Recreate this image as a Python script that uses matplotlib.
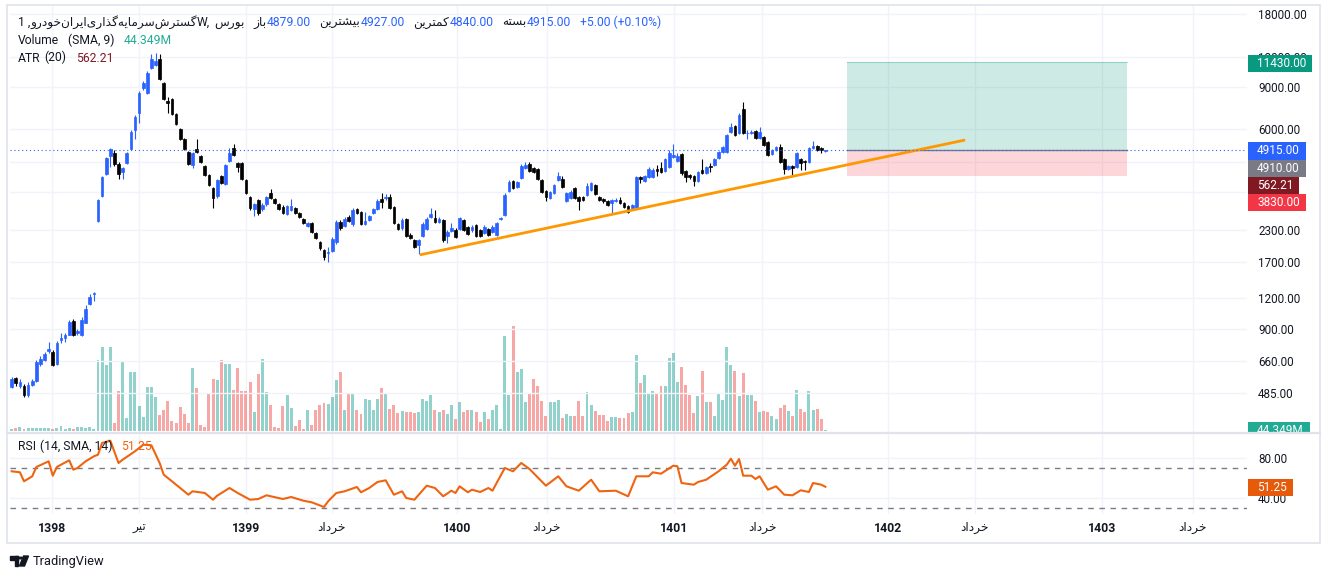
import matplotlib
matplotlib.use("Agg")
import matplotlib.pyplot as plt
import matplotlib.transforms as mtransforms
from matplotlib.colors import to_rgba
from matplotlib.patches import Rectangle, Circle, Polygon
from matplotlib.ticker import NullLocator

plt.rcParams['font.family'] = ['Roboto', 'DejaVu Sans']

# ---- data (oldest first) ----
opens = [515, 560, 520, 520, 480, 525, 545, 640, 664, 730,
         720, 640, 810, 826, 850, 970, 866, 843, 953, 1140,
         1250, 2505, 3180, 3930, 4655, 4790, 4310, 4000, 4355, 4975,
         5960, 7010, 8900, 8480, 10760, 11070, 11720, 9330, 7865, 8010,
         6945, 6020, 5475, 4840, 4270, 4975, 4655, 4230, 3890, 3430,
         3180, 3850, 3570, 4440, 5030, 4355, 4355, 3710, 3150, 2810,
         3060, 2810, 2950, 3270, 3090, 2950, 2870, 2680, 2790, 2840,
         2705, 2555, 2385, 2455, 2235, 2050, 1900, 1850, 1880, 2050,
         2480, 2385, 2600, 2430, 2810, 2730, 2430, 2530, 2705, 2810,
         3090, 3120, 3150, 2870, 2430, 2340, 2555, 2190, 2090, 1995,
         2170, 2320, 2600, 2580, 2480, 2530, 2170, 2280, 2300, 2320,
         2530, 2360, 2300, 2410, 2300, 2235, 2320, 2255, 2190, 2555,
         2650, 3340, 3680, 3460, 3780, 4150, 4310, 4150, 4110, 3710,
         3340, 3120, 3270, 3710, 3750, 3030, 3120, 3430, 3150, 3150,
         3210, 3370, 3530, 3150, 3090, 3030, 2980, 3030, 3060, 2980,
         2890, 2840, 2840, 3815, 3680, 3815, 3815, 4110, 4150, 4040,
         4190, 4610, 4440, 4740, 4040, 3890, 3850, 3680, 4080, 3960,
         4230, 4270, 4570, 4840, 4840, 5850, 6200, 5800, 7280, 5780,
         5800, 5910, 5530, 5580, 5320, 4740, 4930, 5080, 4530, 4110,
         4230, 4190, 4530, 4440, 4400, 5030, 5130, 5030, 4879]
highs = [566, 566, 555, 530, 540, 555, 670, 695, 720, 795,
         735, 800, 866, 866, 980, 990, 900, 1000, 1130, 1250,
         1275, 3090, 3850, 4620, 5030, 4930, 4400, 4200, 4840, 5960,
         6880, 8650, 9500, 10470, 12300, 12420, 12300, 9420, 8160, 8090,
         7010, 6080, 5530, 4880, 4840, 5475, 4700, 4270, 3930, 3460,
         3750, 3890, 4310, 5030, 5220, 4400, 4400, 3750, 3180, 2980,
         3090, 2980, 3180, 3400, 3120, 2980, 2920, 2920, 3090, 2870,
         2730, 2580, 2480, 2480, 2255, 2070, 1920, 1955, 2150, 2530,
         2530, 2600, 2650, 2840, 2840, 2760, 2730, 2650, 2840, 3090,
         3270, 3240, 3240, 2890, 2455, 2580, 2580, 2235, 2110, 2110,
         2480, 2600, 2840, 2790, 2600, 2555, 2300, 2455, 2340, 2600,
         2555, 2385, 2410, 2430, 2320, 2410, 2340, 2410, 2480, 2600,
         3270, 3700, 3710, 3680, 4310, 4400, 4400, 4190, 4150, 3750,
         3370, 3340, 3570, 4000, 3850, 3300, 3370, 3460, 3180, 3180,
         3600, 3640, 3570, 3180, 3120, 3060, 3090, 3120, 3150, 3000,
         2920, 2950, 3850, 3850, 3890, 4190, 4150, 4270, 4400, 4570,
         4930, 5220, 4790, 4790, 4080, 3930, 3890, 4040, 4530, 4230,
         4355, 4570, 4880, 5130, 5750, 6380, 6250, 7010, 7790, 5960,
         5960, 5960, 6140, 5630, 5370, 4980, 5130, 5220, 4570, 4270,
         4270, 4840, 4570, 4480, 5080, 5370, 5170, 5080, 4927]
lows = [510, 520, 510, 471, 471, 520, 540, 628, 658, 713,
        628, 634, 787, 795, 845, 835, 843, 835, 945, 1130,
        1170, 2480, 3150, 3890, 4190, 4230, 3745, 3745, 4310, 4930,
        5475, 6370, 8730, 8400, 10660, 10960, 9600, 7940, 7010, 6880,
        6250, 5420, 4930, 4270, 4150, 4790, 4350, 3850, 3500, 2840,
        3120, 3570, 3530, 4400, 4650, 4000, 3710, 3240, 2790, 2625,
        2650, 2760, 2900, 3090, 2950, 2790, 2680, 2650, 2760, 2680,
        2580, 2430, 2360, 2235, 2110, 1900, 1730, 1700, 1865, 2010,
        2300, 2360, 2480, 2400, 2680, 2410, 2410, 2505, 2680, 2790,
        2840, 3060, 2810, 2430, 2300, 2300, 2150, 2110, 1935, 1830,
        2150, 2300, 2580, 2455, 2455, 2050, 2030, 2255, 2130, 2300,
        2280, 2190, 2255, 2150, 2150, 2210, 2170, 2235, 2170, 2530,
        2625, 3300, 3400, 3430, 3750, 4110, 4000, 3960, 3710, 3270,
        3030, 3090, 3240, 3680, 3430, 3000, 3090, 3090, 2790, 3030,
        3180, 3340, 3210, 3030, 2980, 2890, 2705, 3000, 2950, 2840,
        2705, 2790, 2810, 3600, 3640, 3780, 3780, 3850, 3960, 4000,
        4150, 4570, 4400, 3890, 3640, 3750, 3500, 3640, 3930, 3930,
        4000, 4230, 4530, 4790, 4790, 5800, 5630, 5745, 5745, 5475,
        5745, 5475, 5475, 5130, 4650, 4700, 4880, 4355, 3930, 4080,
        3890, 4150, 4080, 4080, 4355, 4980, 4880, 4790, 4840]
closes = [555, 535, 540, 480, 525, 545, 652, 676, 706, 740,
          634, 787, 826, 850, 962, 843, 875, 980, 1085, 1215,
          1265, 3060, 3815, 4570, 4975, 4310, 3930, 4160, 4790, 5855,
          6750, 8480, 9330, 10270, 11720, 11500, 9690, 8015, 7720, 6945,
          6310, 5475, 4975, 4310, 4790, 4840, 4400, 3890, 3530, 3120,
          3710, 3600, 4270, 4790, 4700, 4190, 3750, 3270, 2840, 2950,
          2705, 2920, 3150, 3120, 2980, 2810, 2705, 2890, 2890, 2705,
          2600, 2455, 2455, 2255, 2135, 1930, 1780, 1865, 2110, 2480,
          2340, 2555, 2505, 2790, 2705, 2430, 2505, 2625, 2810, 3030,
          3000, 3150, 2840, 2455, 2320, 2530, 2170, 2135, 1955, 2090,
          2430, 2555, 2675, 2480, 2555, 2090, 2255, 2340, 2150, 2580,
          2300, 2210, 2360, 2170, 2170, 2360, 2190, 2360, 2455, 2580,
          3210, 3640, 3430, 3640, 4230, 4270, 4040, 4000, 3750, 3300,
          3150, 3300, 3530, 3850, 3460, 3270, 3300, 3120, 3030, 3060,
          3500, 3600, 3240, 3060, 3030, 2920, 3060, 3060, 2980, 2870,
          2730, 2920, 3815, 3745, 3850, 4110, 4080, 4040, 4000, 4530,
          4790, 4700, 4650, 3960, 3815, 3815, 3680, 4000, 3960, 4190,
          4190, 4530, 4840, 5080, 5690, 6140, 5690, 6880, 5800, 5820,
          5855, 5530, 5855, 5170, 4700, 4930, 5080, 4400, 4110, 4230,
          4150, 4790, 4355, 4400, 5030, 5130, 4930, 4910, 4915]
# weekly volume, millions
volumes = [3.5, 7, 8.4, 4.9, 5.6, 5.6, 5.6, 5.6, 5.6, 5.6,
           3.5, 7, 10.5, 4.9, 7, 4.9, 8.4, 8.4, 5.6, 8.4,
           3.5, 150, 177, 138, 177, 16, 84, 145, 27, 124,
           124, 52, 29, 93, 93, 71, 34, 44, 63, 21,
           17, 50, 35, 17, 133, 91, 12, 8, 77, 110,
           108, 150, 140, 140, 87, 133, 84, 84, 103, 40,
           120, 152, 82, 54, 8, 7, 52, 75, 48, 10,
           24, 3.5, 45, 12, 45, 54, 59, 56, 72, 108,
           124, 45, 77, 77, 44, 35, 68, 65, 44, 68,
           90, 77, 47, 54, 38, 43, 40, 39, 38, 39,
           68, 64, 75, 45, 41, 45, 36, 55, 26, 62,
           39, 45, 45, 41, 18, 41, 26, 45, 54, 4,
           199, 76, 220, 125, 131, 61, 80, 110, 94, 64,
           31, 62, 61, 66, 27, 36, 31, 31, 64, 31,
           83, 55, 43, 33, 33, 22, 29, 29, 27, 27,
           38, 39, 160, 102, 118, 78, 85, 78, 94, 94,
           153, 165, 104, 134, 96, 76, 38, 73, 127, 60,
           62, 32, 81, 66, 176, 139, 127, 73, 122, 76,
           76, 64, 39, 43, 41, 32, 26, 48, 55, 43,
           32, 87, 47, 39, 85, 45, 47, 26, 3]
volume_sma9 = 44.349
atr20 = 562.21

rsi_bars = [0, 2, 3, 5, 6, 9, 10, 11, 12, 14, 15, 16, 18, 20, 21, 22, 24, 26, 27, 30,
            32, 34, 36, 37, 39, 41, 43, 44, 47, 49, 50, 53, 55, 58, 60, 62, 66, 68, 71, 73,
            76, 77, 79, 81, 84, 85, 87, 89, 91, 93, 95, 96, 98, 100, 101, 103, 105, 107, 108, 109,
            111, 112, 114, 116, 117, 118, 120, 122, 124, 126, 130, 133, 135, 138, 141, 143, 147, 150, 152, 155,
            156, 158, 161, 162, 163, 166, 167, 169, 172, 174, 175, 176, 177, 178, 180, 181, 182, 184, 186, 188,
            190, 192, 194, 195, 197, 198]
rsi_vals = [66.7, 65.7, 56.7, 61.7, 71, 76.7, 62.3, 71, 73.3, 77.7, 68.3, 70, 76.7, 81.7, 83.3, 95, 97.3, 75, 78.3, 86.7,
            93.3, 92.7, 75, 63.3, 56.7, 50, 43.3, 46.7, 45, 38.3, 42.3, 50, 45, 38.3, 39, 42.7, 39, 41, 37.3, 35.7,
            31, 36.7, 45, 46.7, 51, 45.7, 50, 56, 57.7, 43.3, 46.7, 40, 38.3, 47.7, 52.3, 50, 41.7, 47.3, 45, 51.7,
            45.7, 48.3, 46, 50, 47.3, 55, 70, 66.7, 75, 69, 52.3, 61.7, 51.7, 47.3, 58.3, 46.7, 47.3, 41.7, 61.7, 61.7,
            65.7, 64.3, 72.3, 71.7, 55, 53.3, 56, 58.3, 66.7, 73.3, 79.3, 72.3, 79, 62.3, 62.3, 59, 61.7, 48.3, 51.7, 43.3,
            42.7, 47.7, 46, 55, 53.3, 51.25]

price_levels = [485, 660, 900, 1200, 1700, 2300, 3300, 4400, 6000, 9000, 12000, 18000]
hidden_levels = [3300, 4400]  # labels sit under the price tags
time_tick_bars = [9.8, 31.0, 57.0, 77.9, 108.3, 130.2, 161.1, 182.6, 213.2, 234.4, 265.3, 287.4]
time_tick_labels = ['1398', 'تیر', '1399', 'خرداد', '1400', 'خرداد', '1401', 'خرداد',
                    '1402', 'خرداد', '1403', 'خرداد']

trend_bars = [99.3, 232.0]
trend_prices = [1815, 5420]
position_bars = [203.2, 271.4]
entry_price, target_price, stop_price = 4910, 11430, 3830

symbol_name = 'گسترش‌سرمایه‌گذاری‌ایران‌خودرو'
exchange = 'بورس'
ohlc_names = ['باز', 'بیشترین', 'کمترین', 'بسته']

# ---- minimal persian shaping (matplotlib has no complex text layout) ----
FORMS = {
    'ا': (0xFE8D, 0xFE8E, None, None), 'ب': (0xFE8F, 0xFE90, 0xFE91, 0xFE92),
    'پ': (0xFB56, 0xFB57, 0xFB58, 0xFB59), 'ت': (0xFE95, 0xFE96, 0xFE97, 0xFE98),
    'خ': (0xFEA5, 0xFEA6, 0xFEA7, 0xFEA8), 'د': (0xFEA9, 0xFEAA, None, None),
    'ذ': (0xFEAB, 0xFEAC, None, None), 'ر': (0xFEAD, 0xFEAE, None, None),
    'ز': (0xFEAF, 0xFEB0, None, None), 'س': (0xFEB1, 0xFEB2, 0xFEB3, 0xFEB4),
    'ش': (0xFEB5, 0xFEB6, 0xFEB7, 0xFEB8), 'م': (0xFEE1, 0xFEE2, 0xFEE3, 0xFEE4),
    'ن': (0xFEE5, 0xFEE6, 0xFEE7, 0xFEE8), 'ه': (0xFEE9, 0xFEEA, 0xFEEB, 0xFEEC),
    'و': (0xFEED, 0xFEEE, None, None), 'ی': (0xFBFC, 0xFBFD, 0xFBFE, 0xFBFF),
    'ي': (0xFBFC, 0xFBFD, 0xFBFE, 0xFBFF), 'ک': (0xFB8E, 0xFB8F, 0xFB90, 0xFB91),
    'ك': (0xFB8E, 0xFB8F, 0xFB90, 0xFB91), 'گ': (0xFB92, 0xFB93, 0xFB94, 0xFB95),
}


def fa(s):
    out = []
    for i, ch in enumerate(s):
        if ch not in FORMS:
            out.append(ch)
            continue
        f = FORMS[ch]
        prev = s[i - 1] if i > 0 else ''
        nxt = s[i + 1] if i + 1 < len(s) else ''
        jp = prev in FORMS and FORMS[prev][2] is not None
        jn = f[2] is not None and nxt in FORMS
        g = f[3] if (jp and jn) else f[1] if jp else f[2] if jn else f[0]
        out.append(chr(g))
    return ''.join(reversed(out)).replace('\u200c', '')


DARK = '#131722'
BLUE = '#2962ff'
UP, DOWN = '#2962ff', '#000000'
GRID = '#f0f3fa'
ORANGE = '#ef6410'

W, H = 1330, 579
fig = plt.figure(figsize=(W / 100, H / 100), dpi=100)
fig.patch.set_facecolor('white')
r = fig.canvas.get_renderer()

rect_main = [10 / W, 1 - 432 / H, 1237 / W, 427 / H]
ax_v = fig.add_axes(rect_main)
ax = fig.add_axes(rect_main, sharex=ax_v)
ax_r = fig.add_axes([10 / W, 1 - 514 / H, 1237 / W, 80 / H], sharex=ax_v)
ax_v.set_zorder(0)
ax.set_zorder(1)
ax.patch.set_visible(False)

n = len(closes)
idx = list(range(n))
up = [c >= o for o, c in zip(opens, closes)]
cols = [UP if u else DOWN for u in up]

# volume overlay
vcols = [to_rgba('#26a69a', 0.5) if u else to_rgba('#ef5350', 0.5) for u in up]
ax_v.bar(idx, volumes, width=0.72, color=vcols, zorder=2)
ax_v.set_ylim(-2.1, 427 * 2.1)
ax_v.set_yticks([])
for t in time_tick_bars:
    ax_v.axvline(t, color=GRID, lw=1, zorder=0)

# candles
ax.set_yscale('log')
ax.vlines(idx, lows, highs, colors=cols, linewidth=0.8, zorder=3)
bottoms = [min(o, c) for o, c in zip(opens, closes)]
heights = [abs(c - o) for o, c in zip(opens, closes)]
ax.bar(idx, heights, bottom=bottoms, width=0.66, color=cols, edgecolor=cols,
       linewidth=0.5, zorder=4)

ax.set_xlim(-0.41, 300.6)
ax.set_ylim(335.9, 19610)
ax.yaxis.tick_right()
ax.set_yticks(price_levels)
ax.set_yticklabels(['' if p in hidden_levels else f'{p:.2f}' for p in price_levels])
ax.yaxis.set_minor_locator(NullLocator())
ax.tick_params(axis='y', length=0, pad=8, labelsize=8.4, labelcolor=DARK)
ax.tick_params(axis='x', bottom=False, labelbottom=False)
ax.grid(axis='y', color=GRID, lw=1)
ax.set_axisbelow(True)
for a in (ax, ax_v, ax_r):
    for s in a.spines.values():
        s.set_visible(False)
ax_v.tick_params(axis='x', bottom=False, labelbottom=False)

# long position tool
ax.fill_between(position_bars, entry_price, target_price, color='#089981', alpha=0.2, lw=0, zorder=1)
ax.fill_between(position_bars, stop_price, entry_price, color='#f23645', alpha=0.2, lw=0, zorder=1)
ax.plot(position_bars, [entry_price, entry_price], color='#787b86', lw=1, zorder=2)
ax.plot(position_bars, [target_price, target_price], color='#089981', lw=0.8, alpha=0.3, zorder=2)

# trend line and last price line
ax.plot(trend_bars, trend_prices, color='#ff9800', lw=2, solid_capstyle='butt', zorder=5)
ax.axhline(closes[-1], color=BLUE, lw=0.8, ls=(0, (1, 2.5)), zorder=5)

# RSI pane
ax_r.plot(rsi_bars, rsi_vals, color=ORANGE, lw=1.5, zorder=3)
ax_r.set_ylim(24, 104)
ax_r.yaxis.tick_right()
ax_r.set_yticks([40, 80])
ax_r.set_yticklabels(['40.00', '80.00'])
ax_r.tick_params(axis='y', length=0, pad=8, labelsize=8.4, labelcolor=DARK)
ax_r.tick_params(axis='x', bottom=False, labelbottom=False)
ax_r.grid(axis='y', color=GRID, lw=1)
ax_r.set_axisbelow(True)
for t in time_tick_bars:
    ax_r.axvline(t, color=GRID, lw=1, zorder=0)
for lvl in (70, 30):
    ax_r.axhline(lvl, color='#787b86', lw=1, ls=(0, (4, 4)), zorder=2)

# time axis labels
tr = mtransforms.blended_transform_factory(ax_r.transData, fig.transFigure)
for t, lab in zip(time_tick_bars, time_tick_labels):
    is_year = lab.isdigit()
    ax_r.text(t, 1 - 528 / H, lab if is_year else fa(lab), transform=tr, ha='center',
              va='center', fontsize=8.8, color=DARK, fontweight='bold' if is_year else 'normal',
              clip_on=False)


# ---- legends ----
def row(x, ybase, parts, size=8.7):
    for gap, s, c in parts:
        x += gap
        t = fig.text(x / W, 1 - ybase / H, s, color=c, fontsize=size, va='baseline', ha='left')
        x += t.get_window_extent(r).width


chg = closes[-1] - closes[-2]
pct = chg / closes[-2] * 100
vals = [opens[-1], highs[-1], lows[-1], closes[-1]]
parts = [(0, '1 ,', DARK), (0, fa(symbol_name), DARK), (0, 'W,', DARK), (4, fa(exchange), DARK)]
for name, v in zip(ohlc_names, vals):
    parts += [(9, fa(name), DARK), (0, f'{v:.2f}', BLUE)]
parts += [(9, f'{chg:+.2f} ({pct:+.2f}%)', BLUE)]
row(18, 26, parts)
row(18, 44.5, [(0, 'Volume', DARK), (9, '(SMA, 9)', DARK), (9, f'{volume_sma9:.3f}M', '#22ab94')])
row(18, 61.5, [(0, 'ATR', DARK), (4, '(20)', DARK), (9, f'{atr20:.2f}', '#801922')])
row(18, 450, [(0, 'RSI', DARK), (4, '(14, SMA, 14)', DARK), (9, f'{rsi_vals[-1]:.2f}', ORANGE)])


# ---- right scale tags ----
def tag(yc, text, bg):
    t = fig.text(1257 / W, 1 - yc / H, text, color='white', fontsize=8.5, va='center',
                 ha='left', zorder=6)
    w = t.get_window_extent(r).width
    fig.add_artist(Rectangle((1248 / W, 1 - (yc + 8.5) / H), (w + 15) / W, 17 / H,
                             transform=fig.transFigure, color=bg, zorder=5, lw=0))


tag(63.5, f'{target_price:.2f}', '#089981')
tag(151, f'{closes[-1]:.2f}', '#2962ff')
tag(168.5, f'{closes[-2]:.2f}', '#787b86')
tag(185.5, f'{atr20:.2f}', '#801922')
tag(202.5, f'{stop_price:.2f}', '#f23645')
tag(430.5, f'{volume_sma9:.3f}M', '#22ab94')
tag(487.5, f'{rsi_vals[-1]:.2f}', '#e65a0c')
fig.add_artist(Rectangle((1240 / W, 1 - 441 / H), 90 / W, 8.5 / H, transform=fig.transFigure,
                         color='white', zorder=7, lw=0))

# frame and pane separator
fig.add_artist(Rectangle((7 / W, 1 - 543 / H), 1313 / W, 538 / H, transform=fig.transFigure,
                         fill=False, ec='#e0e3eb', lw=1.2, zorder=8))
fig.add_artist(plt.Line2D([7 / W, 1320 / W], [1 - 433 / H, 1 - 433 / H], transform=fig.transFigure,
                          color='#e0e3eb', lw=1.6, zorder=8))


# TradingView mark
def P(x, y):
    return (x / W, 1 - y / H)


for shape in [Rectangle(P(10, 559.5), 8 / W, 3.5 / H),
              Rectangle(P(14.5, 566), 3.5 / W, 10 / H),
              Polygon([P(23.5, 556), P(28.5, 556), P(24.5, 566), P(19.5, 566)])]:
    shape.set_transform(fig.transFigure)
    shape.set_color(DARK)
    fig.add_artist(shape)
fig.add_artist(Circle(P(20.5, 558), 1.8 / W, transform=fig.transFigure, color=DARK))
fig.text(33 / W, 1 - 561 / H, 'TradingView', fontsize=9.3, color=DARK, va='center', ha='left')

fig.savefig('out.png', dpi=100, facecolor='white')
